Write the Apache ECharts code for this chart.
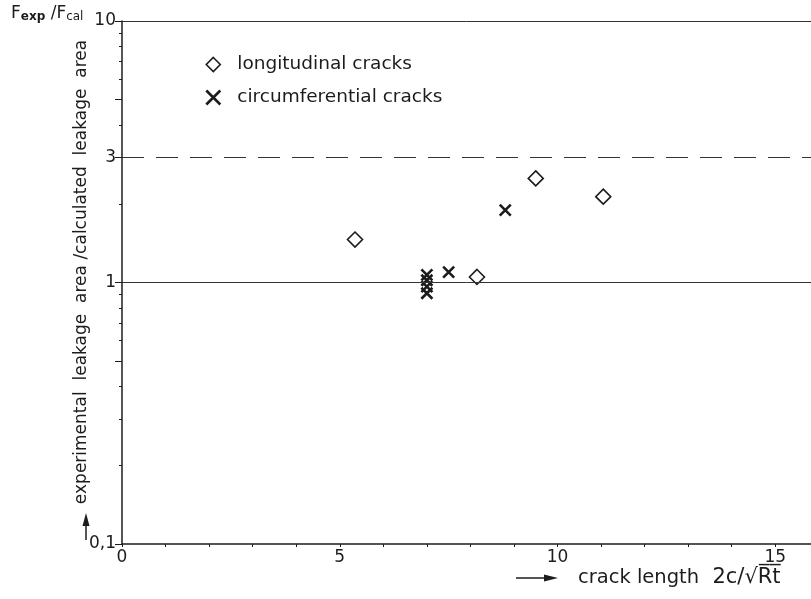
<!DOCTYPE html>
<html>
<head>
<meta charset="utf-8">
<script src="https://cdn.jsdelivr.net/npm/echarts@6/dist/echarts.min.js"></script>
<style>
html,body{margin:0;padding:0;background:#fff;}
#chart{width:811px;height:599px;}
</style>
</head>
<body>
<div id="chart"></div>
<script>
// longitudinal cracks: x = 2c/sqrt(Rt), y = Fexp/Fcal
var longX = [5.35, 8.15, 9.5, 11.05];
var longY = [1.46, 1.05, 2.5, 2.13];
// circumferential cracks
var circX = [7.0, 7.0, 7.0, 7.0, 7.5, 8.8];
var circY = [1.07, 1.02, 0.965, 0.91, 1.095, 1.89];

var xLabels = [0, 5, 10, 15];
var yLabels = [0.1, 1, 3, 10];
var yTicks = [0.1, 0.2, 0.3, 0.4, 0.5, 0.6, 0.7, 0.8, 0.9, 1, 2, 3, 4, 5, 6, 7, 8, 9, 10];
var yTicksLong = [0.1, 0.5, 1, 3, 5, 10];
var solidLines = [10, 1];
var dashedLines = [3];

var INK = '#1c1c1c';
var SANS = '"DejaVu Sans", sans-serif';

function zip(xs, ys) {
    var out = [];
    for (var i = 0; i < xs.length; i++) out.push([xs[i], ys[i]]);
    return out;
}

var lines = [];
solidLines.forEach(function (v) {
    lines.push({yAxis: v, lineStyle: {type: 'solid'}});
});
dashedLines.forEach(function (v) {
    lines.push({yAxis: v, lineStyle: {type: [22, 12]}});
});

var crossStyle = {color: 'rgba(255,255,255,0)', borderColor: INK, borderWidth: 2.6, opacity: 1};
var diamondStyle = {color: 'rgba(255,255,255,0)', borderColor: INK, borderWidth: 1.6, opacity: 1};

var chart = echarts.init(document.getElementById('chart'));

var option = {
    backgroundColor: '#fff',
    animation: false,
    textStyle: {fontFamily: SANS, color: INK},
    grid: {left: 122, top: 21, right: 0, bottom: 55},
    legend: {
        orient: 'vertical',
        left: 200,
        top: 50,
        itemWidth: 14,
        itemHeight: 14,
        itemGap: 14,
        textStyle: {fontSize: 18.5, color: INK, fontFamily: SANS, padding: [0, 0, 0, 12]},
        data: [
            {name: 'longitudinal cracks', itemStyle: diamondStyle},
            {name: 'circumferential cracks', itemStyle: crossStyle}
        ]
    },
    xAxis: {
        type: 'value',
        min: 0,
        max: 15.82,
        interval: 1,
        axisLine: {lineStyle: {color: INK, width: 1.5}},
        axisTick: {length: 3, lineStyle: {color: INK}},
        axisLabel: {customValues: xLabels, color: INK, fontSize: 17, margin: 5, fontFamily: SANS},
        splitLine: {show: false}
    },
    yAxis: [{
        type: 'log',
        logBase: 10,
        min: 0.1,
        max: 10,
        axisLine: {show: true, lineStyle: {color: INK, width: 1.5}},
        axisTick: {customValues: yTicks, length: 3, lineStyle: {color: INK}},
        axisLabel: {
            customValues: yLabels,
            color: INK,
            fontSize: 17,
            margin: 6,
            fontFamily: SANS,
            formatter: function (v) {
                return v < 1 ? String(v).replace('.', ',') : String(v);
            }
        },
        splitLine: {show: false}
    }, {
        type: 'log',
        logBase: 10,
        min: 0.1,
        max: 10,
        position: 'left',
        offset: 0,
        axisLine: {show: false},
        axisTick: {customValues: yTicksLong, length: 7, lineStyle: {color: INK}},
        axisLabel: {show: false},
        splitLine: {show: false}
    }],
    series: [{
        name: 'longitudinal cracks',
        type: 'scatter',
        symbol: 'diamond',
        symbolSize: 15,
        itemStyle: diamondStyle,
        data: zip(longX, longY),
        markLine: {
            silent: true,
            symbol: 'none',
            label: {show: false},
            lineStyle: {color: '#333', width: 1},
            data: lines
        },
        z: 3
    }, {
        name: 'circumferential cracks',
        type: 'scatter',
        symbol: 'path://M0,0L10,10M10,0L0,10',
        symbolSize: 11,
        itemStyle: crossStyle,
        data: zip(circX, circY),
        z: 4
    }],
    graphic: [{
        type: 'text',
        left: 11,
        top: 5,
        style: {
            text: '{f|F}{s|exp}{f| /F}{s2|cal}',
            rich: {
                f: {fontSize: 17, fontFamily: SANS, fill: INK},
                s: {fontSize: 12, fontWeight: 'bold', fontFamily: SANS, fill: INK, padding: [7, 0, 0, 0]},
                s2: {fontSize: 12, fontFamily: SANS, fill: INK, padding: [7, 0, 0, 0]}
            }
        }
    }, {
        // y axis title
        type: 'text',
        x: 82,
        y: 272,
        rotation: Math.PI / 2,
        style: {
            text: 'experimental  leakage  area /calculated  leakage  area',
            fontSize: 17,
            fontFamily: SANS,
            fill: INK,
            align: 'center',
            verticalAlign: 'middle'
        }
    }, {
        type: 'line',
        shape: {x1: 86, y1: 540, x2: 86, y2: 524},
        style: {stroke: INK, lineWidth: 1.5}
    }, {
        type: 'polygon',
        shape: {points: [[82.5, 526], [89.5, 526], [86, 513]]},
        style: {fill: INK}
    }, {
        // x axis title
        type: 'line',
        shape: {x1: 516, y1: 578, x2: 546, y2: 578},
        style: {stroke: INK, lineWidth: 1.5}
    }, {
        type: 'polygon',
        shape: {points: [[544, 574.5], [544, 581.5], [558, 578]]},
        style: {fill: INK}
    }, {
        type: 'text',
        x: 578,
        y: 578,
        style: {
            text: '{a|crack length}{b|  2c/\u221aR\u0305t\u0305}',
            rich: {
                a: {fontSize: 19.5, fontFamily: SANS, fill: INK},
                b: {fontSize: 21, fontFamily: SANS, fill: INK}
            },
            align: 'left',
            verticalAlign: 'middle'
        }
    }]
};

chart.setOption(option);
</script>
</body>
</html>
